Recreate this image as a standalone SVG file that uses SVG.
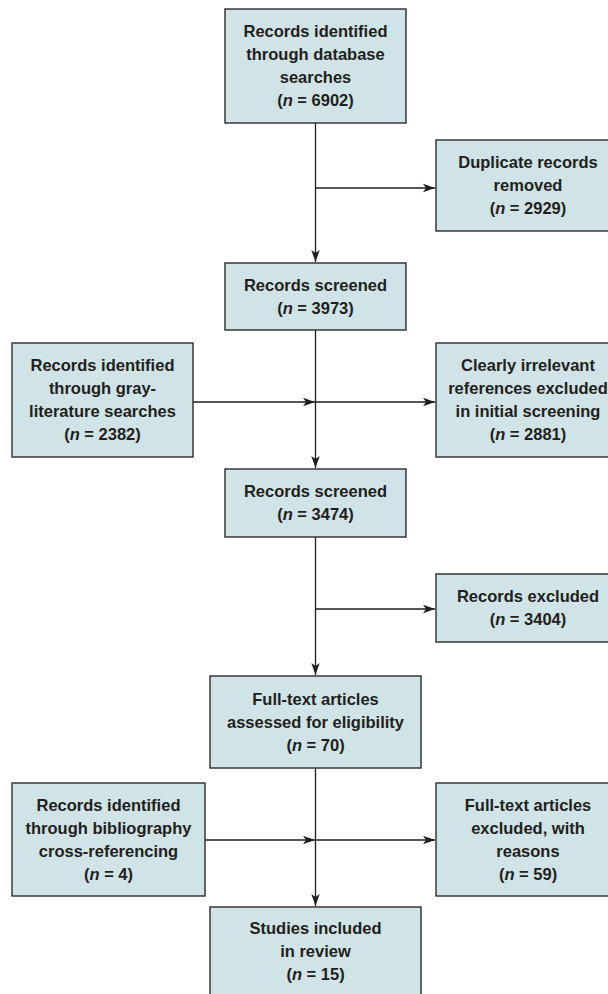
<svg xmlns="http://www.w3.org/2000/svg" width="608" height="994" viewBox="0 0 608 994">
<defs>
<style>
.box{fill:#d0e3e6;stroke:#2b2b2b;stroke-width:1.4}
.t{font-family:"Liberation Sans",Arial,sans-serif;font-weight:bold;font-size:16.5px;fill:#231f20;text-anchor:middle}
.i{font-style:italic}
.c{fill:none;stroke:#1e1e1e;stroke-width:1.3}
</style>
<marker id="ah" markerUnits="userSpaceOnUse" markerWidth="14" markerHeight="10" refX="12" refY="5" orient="auto">
<path d="M0,0.8 L12,5 L0,9.2 L3,5 Z" fill="#1e1e1e"/>
</marker>
</defs>
<rect width="608" height="994" fill="#ffffff"/>
<g id="connectors">
<line class="c" x1="315.5" y1="123" x2="315.5" y2="262" marker-end="url(#ah)"/>
<line class="c" x1="315.5" y1="188" x2="435" y2="188" marker-end="url(#ah)"/>
<line class="c" x1="315.5" y1="330" x2="315.5" y2="468" marker-end="url(#ah)"/>
<line class="c" x1="193" y1="402" x2="315" y2="402" marker-end="url(#ah)"/>
<line class="c" x1="315.5" y1="402" x2="435" y2="402" marker-end="url(#ah)"/>
<line class="c" x1="315.5" y1="537" x2="315.5" y2="675" marker-end="url(#ah)"/>
<line class="c" x1="315.5" y1="609" x2="435" y2="609" marker-end="url(#ah)"/>
<line class="c" x1="315.5" y1="768" x2="315.5" y2="906" marker-end="url(#ah)"/>
<line class="c" x1="205" y1="840" x2="315" y2="840" marker-end="url(#ah)"/>
<line class="c" x1="315.5" y1="840" x2="435" y2="840" marker-end="url(#ah)"/>
</g>
<g id="n1">
<rect class="box" x="225" y="9" width="181" height="114"/>
<text class="t" x="315.5" y="37.3">Records identified</text>
<text class="t" x="315.5" y="60.3">through database</text>
<text class="t" x="315.5" y="83.3">searches</text>
<text class="t" x="315.5" y="106.3">(<tspan class="i">n</tspan> = 6902)</text>
</g>
<g id="n2">
<rect class="box" x="436" y="140" width="184" height="91"/>
<text class="t" x="528" y="168.3">Duplicate records</text>
<text class="t" x="528" y="191.3">removed</text>
<text class="t" x="528" y="214.3">(<tspan class="i">n</tspan> = 2929)</text>
</g>
<g id="n3">
<rect class="box" x="225" y="263" width="181" height="67"/>
<text class="t" x="315.5" y="290.8">Records screened</text>
<text class="t" x="315.5" y="313.8">(<tspan class="i">n</tspan> = 3973)</text>
</g>
<g id="n4">
<rect class="box" x="12" y="343" width="181" height="114"/>
<text class="t" x="102.5" y="371.3">Records identified</text>
<text class="t" x="102.5" y="394.3">through gray-</text>
<text class="t" x="102.5" y="417.3">literature searches</text>
<text class="t" x="102.5" y="440.3">(<tspan class="i">n</tspan> = 2382)</text>
</g>
<g id="n5">
<rect class="box" x="436" y="343" width="184" height="114"/>
<text class="t" x="528" y="371.3">Clearly irrelevant</text>
<text class="t" x="528" y="394.3">references excluded</text>
<text class="t" x="528" y="417.3">in initial screening</text>
<text class="t" x="528" y="440.3">(<tspan class="i">n</tspan> = 2881)</text>
</g>
<g id="n6">
<rect class="box" x="225" y="469" width="181" height="68"/>
<text class="t" x="315.5" y="497.3">Records screened</text>
<text class="t" x="315.5" y="520.3">(<tspan class="i">n</tspan> = 3474)</text>
</g>
<g id="n7">
<rect class="box" x="436" y="574" width="184" height="68"/>
<text class="t" x="528" y="602.3">Records excluded</text>
<text class="t" x="528" y="625.3">(<tspan class="i">n</tspan> = 3404)</text>
</g>
<g id="n8">
<rect class="box" x="210" y="676" width="211" height="92"/>
<text class="t" x="315.5" y="704.8">Full-text articles</text>
<text class="t" x="315.5" y="727.8">assessed for eligibility</text>
<text class="t" x="315.5" y="750.8">(<tspan class="i">n</tspan> = 70)</text>
</g>
<g id="n9">
<rect class="box" x="12" y="783" width="193" height="113"/>
<text class="t" x="108.5" y="810.8">Records identified</text>
<text class="t" x="108.5" y="833.8">through bibliography</text>
<text class="t" x="108.5" y="856.8">cross-referencing</text>
<text class="t" x="108.5" y="879.8">(<tspan class="i">n</tspan> = 4)</text>
</g>
<g id="n10">
<rect class="box" x="436" y="783" width="184" height="113"/>
<text class="t" x="528" y="810.8">Full-text articles</text>
<text class="t" x="528" y="833.8">excluded, with</text>
<text class="t" x="528" y="856.8">reasons</text>
<text class="t" x="528" y="879.8">(<tspan class="i">n</tspan> = 59)</text>
</g>
<g id="n11">
<rect class="box" x="210" y="907" width="211" height="100"/>
<text class="t" x="315.5" y="934">Studies included</text>
<text class="t" x="315.5" y="957">in review</text>
<text class="t" x="315.5" y="980">(<tspan class="i">n</tspan> = 15)</text>
</g>
</svg>
